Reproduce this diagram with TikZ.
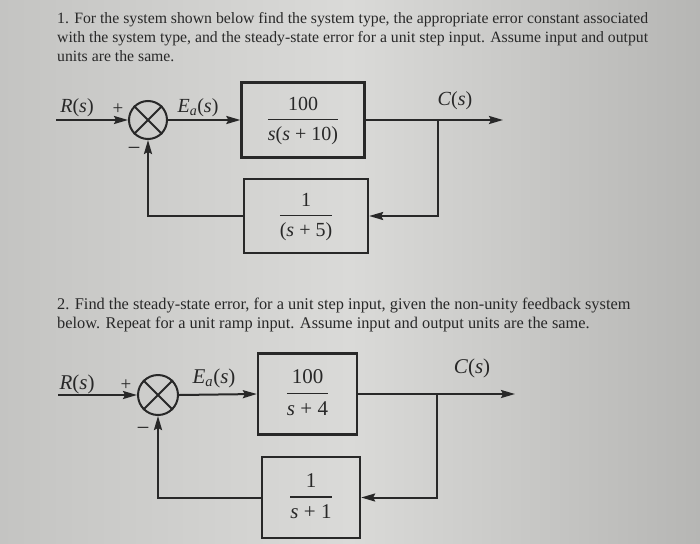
\documentclass[tikz,border=0pt]{standalone}
\usepackage{fontspec}
\setmainfont{Liberation Serif}
\usetikzlibrary{arrows.meta,calc}
\definecolor{paperL}{RGB}{196,196,194}
\definecolor{paperM}{RGB}{218,218,216}
\definecolor{paperR}{RGB}{182,182,180}
\definecolor{ink}{RGB}{40,40,40}
\newcommand\myfr[2]{{\setlength\arrayrulewidth{1.3pt}\renewcommand\arraystretch{1.1}\begin{tabular}{@{}c@{}}#1\\[1pt]\hline\rule{0pt}{1.0em}#2\end{tabular}}}
\newcommand\itl[1]{\textit{#1}}
\begin{document}
\begin{tikzpicture}[x=1pt,y=-1pt,
  txt/.style={anchor=base west, inner sep=0pt, text=ink, font=\fontsize{15.75}{17.5}\selectfont},
  txttwo/.style={anchor=base west, inner sep=0pt, text=ink, font=\fontsize{16.35}{19}\selectfont},
  lbl/.style={inner sep=0pt, text=ink, font=\fontsize{20}{24}\selectfont},
  lbltwo/.style={inner sep=0pt, text=ink, font=\fontsize{21}{25}\selectfont},
  sgn/.style={inner sep=0pt, text=ink, font=\fontsize{19}{22}\selectfont},
  mns/.style={inner sep=0pt, text=ink, font=\fontsize{23}{26}\selectfont},
  blk/.style={draw=ink, line width=2.3pt, inner sep=0pt, align=center},
  sumj/.style={draw=ink, circle, line width=2pt, inner sep=0pt},
  cross/.style={draw=ink, line width=1.8pt},
  arr/.style={draw=ink, line width=2pt, -{Stealth[length=14pt,width=8pt,inset=2pt]}}]
\shade[left color=paperL, right color=paperR, middle color=paperM] (0,0) rectangle (700,543);
\useasboundingbox (0,0) rectangle (700,543);

% ---- text of problem 1
\node[txt] (t1a) at (57,24) {1. For the system shown below find the system type, the appropriate error constant associated};
\node[txt] (t1b) at (57,42) {with the system type, and the steady-state error for a unit step input. Assume input and output};
\node[txt] (t1c) at (57,61) {units are the same.};

% ---- diagram 1
\node[sumj, minimum size=38pt] (s1) at (148,120) {};
\draw[cross] (s1.45) -- (s1.225) (s1.135) -- (s1.315);
\coordinate (in1) at (56,120);
\node[blk, minimum width=123pt, minimum height=75pt, font=\fontsize{20}{24}\selectfont, text=ink] (g1) at (303,120) {\myfr{100}{\itl{s}(\itl{s} + 10)}};
\node[blk, minimum width=124pt, minimum height=74pt, font=\fontsize{20}{24}\selectfont, text=ink] (h1) at (306,216) {\myfr{1}{(\itl{s} + 5)}};
\coordinate (b1) at (438,120);
\coordinate (o1) at (503,120);
\draw[arr] (in1) -- (s1.west);
\draw[arr] (s1.east) -- (g1.west);
\draw[arr] (g1.east) -- (o1);
\draw[arr] (b1) |- (h1.east);
\draw[arr] (h1.west) -| (s1.south);
\node[lbl] (r1) at (77,108) {\itl{R}(\itl{s})};
\node[sgn] (p1) at (118,109) {+};
\node[mns] (m1) at (134,151) {−};
\node[lbl] (e1) at (198,108) {\itl{E}\textsubscript{\itl{a}}(\itl{s})};
\node[lbl] (c1) at (455,101) {\itl{C}(\itl{s})};

% ---- text of problem 2
\node[txttwo] (t2a) at (57,309) {2. Find the steady-state error, for a unit step input, given the non-unity feedback system};
\node[txttwo] (t2b) at (57,328) {below. Repeat for a unit ramp input. Assume input and output units are the same.};

% ---- diagram 2
\node[sumj, minimum size=40pt] (s2) at (158,395) {};
\draw[cross] (s2.45) -- (s2.225) (s2.135) -- (s2.315);
\coordinate (in2) at (58,395);
\node[blk, minimum width=99pt, minimum height=81pt, font=\fontsize{21}{25}\selectfont, text=ink] (g2) at (307.5,394) {\myfr{100}{\itl{s} + 4}};
\node[blk, minimum width=98pt, minimum height=81pt, font=\fontsize{21}{25}\selectfont, text=ink] (h2) at (311,497.5) {\myfr{1}{\itl{s} + 1}};
\coordinate (b2) at (437,394);
\coordinate (o2) at (515,394);
\draw[arr] (in2) -- (s2.west);
\draw[arr] (s2.east) -- (g2.west);
\draw[arr] (g2.east) -- (o2);
\draw[arr] (b2) |- (h2.east);
\draw[arr] (h2.west) -| (s2.south);
\node[lbltwo] (r2) at (77,384) {\itl{R}(\itl{s})};
\node[sgn] (p2) at (126,385) {+};
\node[mns] (m2) at (143,431) {−};
\node[lbltwo] (e2) at (214,378) {\itl{E}\textsubscript{\itl{a}}(\itl{s})};
\node[lbltwo] (c2) at (472,368) {\itl{C}(\itl{s})};
\end{tikzpicture}
\end{document}
